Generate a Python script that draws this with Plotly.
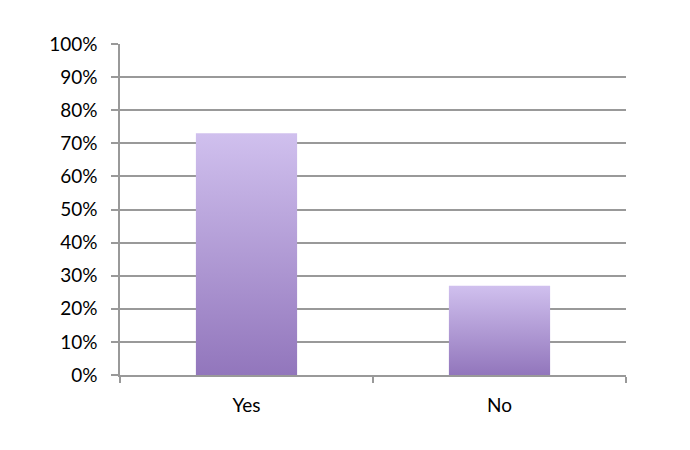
import plotly.graph_objects as go

categories = ["Yes", "No"]
values = [0.73, 0.27]

bar_width = 0.4
top_color = "rgb(208,192,238)"
bottom_color = "rgb(146,118,188)"

fig = go.Figure()

# invisible bars to establish the category axis
fig.add_trace(go.Bar(x=categories, y=values,
                     marker=dict(color="rgba(0,0,0,0)", line=dict(width=0)),
                     hoverinfo="skip", showlegend=False))

# gradient-filled bars on an overlaid numeric axis
for i, v in enumerate(values):
    x0, x1 = i - bar_width / 2, i + bar_width / 2
    fig.add_trace(go.Scatter(
        x=[x0, x1, x1, x0, x0], y=[0, 0, v, v, 0],
        xaxis="x2", mode="lines", line=dict(width=0),
        fill="toself",
        fillgradient=dict(type="vertical",
                          colorscale=[[0, bottom_color], [1, top_color]]),
        hoverinfo="skip", showlegend=False,
    ))

font_family = "Lato, 'Open Sans', sans-serif"

fig.update_layout(
    width=690, height=450,
    margin=dict(l=112, r=72, t=36, b=83, autoexpand=False),
    paper_bgcolor="white", plot_bgcolor="white",
    font=dict(family=font_family, size=19, color="#000000"),
    showlegend=False,
    xaxis=dict(
        type="category", categoryarray=categories, range=[-0.5, 1.5],
        tickson="boundaries", ticks="outside", ticklen=6, tickwidth=1.5,
        tickcolor="#999999", showline=True, linecolor="#999999", linewidth=1.5,
        showgrid=False, zeroline=False, fixedrange=True,
        tickfont=dict(size=19), ticklabelstandoff=12,
    ),
    xaxis2=dict(overlaying="x", range=[-0.5, 1.5], visible=False, fixedrange=True),
    yaxis=dict(
        range=[0, 1], dtick=0.1, tickformat=".0%",
        ticks="outside", ticklen=7, tickwidth=1.5, tickcolor="#999999",
        showline=True, linecolor="#999999", linewidth=1.5,
        showgrid=True, gridcolor="#999999", gridwidth=1.5,
        zeroline=False, fixedrange=True, ticklabelstandoff=10,
        tickfont=dict(size=19),
    ),
)

fig.write_html("out.html")
